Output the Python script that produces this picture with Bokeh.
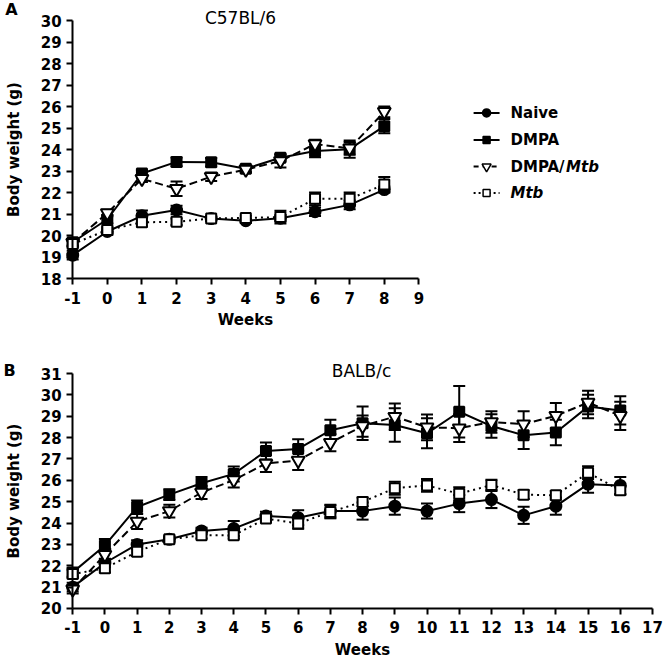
from bokeh.plotting import figure
from bokeh.layouts import column
from bokeh.models import ColumnDataSource, Whisker, TeeHead, Label, Range1d, FixedTicker
from bokeh.embed import file_html
from bokeh.resources import INLINE

# ---------------- data: panel A (C57BL/6) ----------------
weeks_a = [-1, 0, 1, 2, 3, 4, 5, 6, 7, 8]
naive_a = [19.1, 20.2, 20.93, 21.2, 20.8, 20.7, 20.82, 21.12, 21.44, 22.15]
naive_a_err = [0.2, 0.15, 0.25, 0.2, 0.1, 0.1, 0.15, 0.2, 0.2, 0.15]
dmpa_a = [19.7, 20.77, 22.9, 23.44, 23.42, 23.12, 23.63, 23.95, 24.03, 25.1]
dmpa_a_err = [0.15, 0.2, 0.15, 0.2, 0.2, 0.15, 0.15, 0.3, 0.4, 0.33]
dmpamtb_a = [19.68, 21.06, 22.65, 22.19, 22.75, 23.08, 23.48, 24.27, 24.07, 25.77]
dmpamtb_a_err = [0.15, 0.15, 0.15, 0.34, 0.2, 0.15, 0.3, 0.2, 0.3, 0.25]
mtb_a = [19.62, 20.27, 20.63, 20.65, 20.81, 20.83, 20.87, 21.72, 21.72, 22.39]
mtb_a_err = [0.15, 0.15, 0.2, 0.15, 0.1, 0.1, 0.3, 0.3, 0.3, 0.35]

# ---------------- data: panel B (BALB/c) ----------------
weeks_b = [-1, 0, 1, 2, 3, 4, 5, 6, 7, 8, 9, 10, 11, 12, 13, 14, 15, 16]
naive_b = [21.0, 22.13, 23.0, 23.24, 23.63, 23.74, 24.33, 24.25, 24.56, 24.56,
           24.79, 24.56, 24.91, 25.1, 24.36, 24.79, 25.82, 25.76]
naive_b_err = [0.2, 0.2, 0.2, 0.15, 0.15, 0.35, 0.2, 0.35, 0.3, 0.4,
               0.4, 0.35, 0.4, 0.4, 0.4, 0.4, 0.4, 0.4]
dmpa_b = [21.69, 22.95, 24.75, 25.33, 25.86, 26.3, 27.37, 27.47, 28.34, 28.67,
          28.59, 28.2, 29.21, 28.54, 28.11, 28.24, 29.45, 29.27]
dmpa_b_err = [0.2, 0.3, 0.3, 0.25, 0.3, 0.35, 0.4, 0.45, 0.5, 0.78,
              0.78, 0.7, 1.2, 0.55, 0.64, 0.6, 0.55, 0.66]
dmpamtb_b = [20.9, 22.52, 24.07, 24.56, 25.43, 26.01, 26.79, 26.93, 27.76, 28.54,
             28.98, 28.48, 28.44, 28.73, 28.63, 29.02, 29.64, 29.02]
dmpamtb_b_err = [0.2, 0.2, 0.35, 0.3, 0.3, 0.35, 0.4, 0.45, 0.4, 0.5,
                 0.62, 0.6, 0.65, 0.5, 0.6, 0.6, 0.55, 0.66]
mtb_b = [21.61, 21.88, 22.66, 23.24, 23.43, 23.43, 24.21, 23.98, 24.52, 24.99,
         25.63, 25.76, 25.37, 25.78, 25.33, 25.3, 26.36, 25.53]
mtb_b_err = [0.2, 0.2, 0.2, 0.1, 0.15, 0.15, 0.15, 0.25, 0.3, 0.2,
             0.3, 0.3, 0.3, 0.25, 0.2, 0.2, 0.3, 0.2]

group_names = ["Naive", "DMPA", "DMPA/Mtb", "Mtb"]
xticks_a = [-1, 0, 1, 2, 3, 4, 5, 6, 7, 8, 9]
yticks_a = [18, 19, 20, 21, 22, 23, 24, 25, 26, 27, 28, 29, 30]
xticks_b = list(range(-1, 18))
yticks_b = list(range(20, 32))

FONT = "DejaVu Sans"
STYLES = {
    "Naive": dict(dash="solid", marker="circle", fill="black", size=11, lsize=8, ldash="solid"),
    "DMPA": dict(dash="solid", marker="square", fill="black", size=10, lsize=7, ldash="solid"),
    "DMPA/Mtb": dict(dash="8 4", marker="inverted_triangle", fill="white", size=13, lsize=9,
                     ldash="5 4"),
    "Mtb": dict(dash="2 4", marker="square", fill="white", size=10, lsize=7, ldash="2 3"),
}


def make_panel(weeks, series, xr, yr, xt, yt, height):
    p = figure(width=664, height=height, output_backend="svg", toolbar_location=None,
               x_range=Range1d(*xr), y_range=Range1d(*yr),
               min_border_left=0, min_border_right=0,
               min_border_top=0, min_border_bottom=0)
    p.grid.visible = False
    p.outline_line_color = None
    for ax in (p.xaxis, p.yaxis):
        ax.axis_line_width = 2
        ax.axis_line_color = "black"
        ax.major_tick_line_width = 2
        ax.major_tick_line_color = "black"
        ax.major_tick_out = 6
        ax.major_tick_in = 0
        ax.minor_tick_line_color = None
        ax.major_label_text_font = FONT
        ax.major_label_text_font_style = "bold"
        ax.major_label_text_font_size = "15px"
        ax.major_label_text_color = "black"
        ax.axis_label_text_font = FONT
        ax.axis_label_text_font_style = "bold"
        ax.axis_label_text_font_size = "15px"
        ax.axis_label_text_color = "black"
    p.xaxis.ticker = FixedTicker(ticks=xt)
    p.xaxis.bounds = (xt[0], xt[-1])
    p.xaxis.fixed_location = yt[0]
    p.xaxis.major_label_overrides = {-1: "-1"}
    p.yaxis.ticker = FixedTicker(ticks=yt)
    p.yaxis.bounds = (yt[0], yt[-1])
    p.yaxis.fixed_location = xt[0]
    p.xaxis.axis_label = "Weeks"
    p.yaxis.axis_label = "Body weight (g)"
    p.xaxis.major_label_standoff = 7
    p.xaxis.axis_label_standoff = 4
    p.yaxis.major_label_standoff = 5
    p.yaxis.axis_label_standoff = 15

    sources = {}
    for name, (vals, errs) in zip(group_names, series):
        src = ColumnDataSource(dict(
            x=weeks, y=vals,
            upper=[v + e for v, e in zip(vals, errs)],
            lower=[v - e for v, e in zip(vals, errs)]))
        sources[name] = src
        w = Whisker(source=src, base="x", upper="upper", lower="lower",
                    line_width=2, line_color="black", level="underlay",
                    upper_head=TeeHead(size=12, line_width=2, line_color="black"),
                    lower_head=TeeHead(size=12, line_width=2, line_color="black"))
        p.add_layout(w)
    for name in group_names:
        st = STYLES[name]
        p.line("x", "y", source=sources[name], line_width=2, line_color="black",
               line_dash=st["dash"])
    for name in group_names:
        st = STYLES[name]
        p.scatter("x", "y", source=sources[name], marker=st["marker"], size=st["size"],
                  fill_color=st["fill"], line_color="black", line_width=2)
    return p


pA = make_panel(weeks_a,
                [(naive_a, naive_a_err), (dmpa_a, dmpa_a_err),
                 (dmpamtb_a, dmpamtb_a_err), (mtb_a, mtb_a_err)],
                (-3.0855, 16.094), (15.129, 30.949), xticks_a, yticks_a, 340)
pB = make_panel(weeks_b,
                [(naive_b, naive_b_err), (dmpa_b, dmpa_b_err),
                 (dmpamtb_b, dmpamtb_b_err), (mtb_b, mtb_b_err)],
                (-3.2415, 17.373), (17.472, 32.545), xticks_b, yticks_b, 322)

# titles and panel letters
pA.add_layout(Label(x=3.847, y=30.158, text="C57BL/6", text_font=FONT, text_font_size="17px",
                    text_align="center", text_baseline="middle", text_color="black"))
pA.add_layout(Label(x=-2.95, y=30.553, text="A", text_font=FONT, text_font_size="16px",
                    text_font_style="bold", text_align="left", text_baseline="middle",
                    text_color="black"))
pB.add_layout(Label(x=7.966, y=31.14, text="BALB/c", text_font=FONT, text_font_size="17px",
                    text_align="center", text_baseline="middle", text_color="black"))
pB.add_layout(Label(x=-3.15, y=31.14, text="B", text_font=FONT, text_font_size="16px",
                    text_font_style="bold", text_align="left", text_baseline="middle",
                    text_color="black"))

# legend (drawn in panel A beside the data)
leg_y = [25.72, 24.46, 23.22, 21.99]
for name, ly in zip(group_names, leg_y):
    st = STYLES[name]
    pA.line([10.58, 11.33], [ly, ly], line_width=2, line_color="black", line_dash=st["ldash"])
    pA.scatter([10.955], [ly], marker=st["marker"], size=st["lsize"], fill_color=st["fill"],
               line_color="black", line_width=1.5)
legend_texts = [(11.646, leg_y[0], "Naive", "bold"),
                (11.646, leg_y[1], "DMPA", "bold"),
                (11.646, leg_y[2], "DMPA/", "bold"),
                (13.25, leg_y[2], "Mtb", "bold italic"),
                (11.646, leg_y[3], "Mtb", "bold italic")]
for lx, ly, txt, style in legend_texts:
    pA.add_layout(Label(x=lx, y=ly, text=txt, text_font=FONT, text_font_size="15px",
                        text_font_style=style, text_baseline="middle", text_color="black"))

layout = column(pA, pB, spacing=0)
open("out.html", "w").write(file_html(layout, INLINE))
